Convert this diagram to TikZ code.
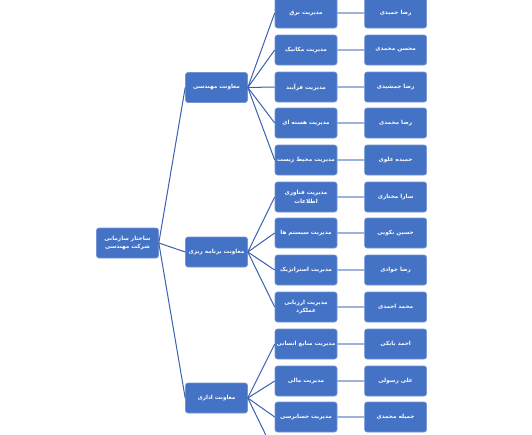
\documentclass[tikz,border=0pt]{standalone}
\usepackage{fontspec}
\usepackage{xcolor}
\usepackage{tikz}
\usetikzlibrary{positioning}
\TeXXeTstate=1
\newfontfamily\arabicfont[Script=Arabic]{DejaVu Sans}
\newcommand{\fa}[1]{\beginR #1\endR}
\definecolor{boxblue}{HTML}{4472C4}
\definecolor{treeblue}{HTML}{3A62B0}
\definecolor{linkblue}{HTML}{9DB3DE}

\begin{document}
\begin{tikzpicture}[
    x=1pt, y=-1pt,
    unit/.style={rectangle, rounded corners=2.5pt, fill=boxblue,
                 draw=boxblue!75!white, line width=0.6pt,
                 minimum width=62pt, minimum height=30pt, inner sep=0.5pt,
                 text=white, align=center,
                 font=\arabicfont\bfseries\fontsize{5.7}{8.5}\selectfont},
    tree/.style={treeblue, line width=1pt},
    link/.style={linkblue, line width=1.8pt},
    node distance=27pt
]
\useasboundingbox[fill=white] (0,0) rectangle (532,434);

% root and deputies
\node[unit] (root) at (127.5,243) {\fa{ساختار سازمانی}\\\fa{شرکت مهندسی}};
\node[unit] (eng) at (216.5,87.5) {\fa{معاونت مهندسی}};
\node[unit] (plan) at (216.5,252) {\fa{معاونت برنامه ریزی}};
\node[unit] (adm) at (216.5,398) {\fa{معاونت اداری}};

% managements
\node[unit] (eng1) at (306,13) {\fa{مدیریت برق}};
\node[unit] (eng2) at (306,50) {\fa{مدیریت مکانیک}};
\node[unit] (eng3) at (306,87) {\fa{مدیریت فرآیند}};
\node[unit] (eng4) at (306,123) {\fa{مدیریت هسته ای}};
\node[unit] (eng5) at (306,160) {\fa{مدیریت محیط زیست}};
\node[unit] (plan1) at (306,197) {\fa{مدیریت فناوری}\\\fa{اطلاعات}};
\node[unit] (plan2) at (306,233) {\fa{مدیریت سیستم ها}};
\node[unit] (plan3) at (306,270) {\fa{مدیریت استراتژیک}};
\node[unit] (plan4) at (306,307) {\fa{مدیریت ارزیابی}\\\fa{عملکرد}};
\node[unit] (adm1) at (306,344) {\fa{مدیریت منابع انسانی}};
\node[unit] (adm2) at (306,381) {\fa{مدیریت مالی}};
\node[unit] (adm3) at (306,417) {\fa{مدیریت حسابرسی}};
\coordinate (adm4) at (275,454);

% heads
\node[unit, right=of eng1] (head1) {\fa{رضا حمیدی}};
\node[unit, right=of eng2] (head2) {\fa{محسن محمدی}};
\node[unit, right=of eng3] (head3) {\fa{رضا جمشیدی}};
\node[unit, right=of eng4] (head4) {\fa{رضا محمدی}};
\node[unit, right=of eng5] (head5) {\fa{حمیده علوی}};
\node[unit, right=of plan1] (head6) {\fa{سارا مختاری}};
\node[unit, right=of plan2] (head7) {\fa{حسین نکویی}};
\node[unit, right=of plan3] (head8) {\fa{رضا جوادی}};
\node[unit, right=of plan4] (head9) {\fa{محمد احمدی}};
\node[unit, right=of adm1] (head10) {\fa{احمد بابکی}};
\node[unit, right=of adm2] (head11) {\fa{علی رسولی}};
\node[unit, right=of adm3] (head12) {\fa{جمیله محمدی}};

% tree connectors
\draw[tree] (root.east) -- (eng.west);
\draw[tree] (root.east) -- (plan.west);
\draw[tree] (root.east) -- (adm.west);
\draw[tree] (eng.east) -- (eng1.west);
\draw[tree] (eng.east) -- (eng2.west);
\draw[tree] (eng.east) -- (eng3.west);
\draw[tree] (eng.east) -- (eng4.west);
\draw[tree] (eng.east) -- (eng5.west);
\draw[tree] (plan.east) -- (plan1.west);
\draw[tree] (plan.east) -- (plan2.west);
\draw[tree] (plan.east) -- (plan3.west);
\draw[tree] (plan.east) -- (plan4.west);
\draw[tree] (adm.east) -- (adm1.west);
\draw[tree] (adm.east) -- (adm2.west);
\draw[tree] (adm.east) -- (adm3.west);
\draw[tree] (adm.east) -- (adm4);

% management to head links
\draw[link] (eng1) -- (head1);
\draw[link] (eng2) -- (head2);
\draw[link] (eng3) -- (head3);
\draw[link] (eng4) -- (head4);
\draw[link] (eng5) -- (head5);
\draw[link] (plan1) -- (head6);
\draw[link] (plan2) -- (head7);
\draw[link] (plan3) -- (head8);
\draw[link] (plan4) -- (head9);
\draw[link] (adm1) -- (head10);
\draw[link] (adm2) -- (head11);
\draw[link] (adm3) -- (head12);
\end{tikzpicture}
\end{document}
